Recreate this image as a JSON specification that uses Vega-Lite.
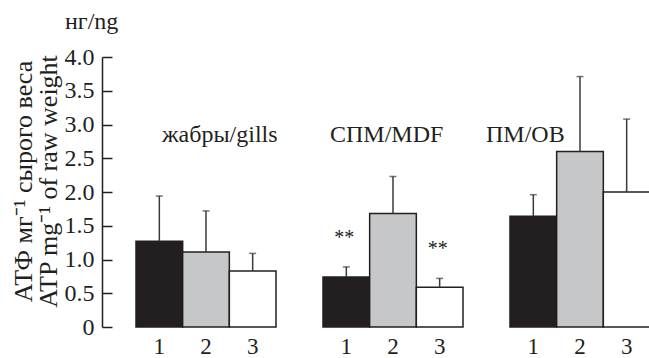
{
  "$schema": "https://vega.github.io/schema/vega-lite/v6.json",
  "autosize": "none",
  "width": 548,
  "height": 270,
  "padding": {"left": 102, "top": 57, "right": 0, "bottom": 31},
  "background": "white",
  "config": {
    "view": {"stroke": null},
    "font": "Liberation Serif",
    "axisY": {
      "domainColor": "#231f20", "domainWidth": 1.5,
      "labelFontSize": 24, "labelColor": "#231f20", "labelFont": "Liberation Serif",
      "titleFont": "Liberation Serif", "titleFontSize": 26, "titleFontWeight": "normal", "titleColor": "#231f20"
    }
  },
  "data": {"values": [
    {"group": "жабры/gills", "bar": 1, "value": 1.27, "err": 1.94, "sig": ""},
    {"group": "жабры/gills", "bar": 2, "value": 1.11, "err": 1.72, "sig": ""},
    {"group": "жабры/gills", "bar": 3, "value": 0.83, "err": 1.09, "sig": ""},
    {"group": "СПМ/MDF", "bar": 1, "value": 0.74, "err": 0.89, "sig": "**"},
    {"group": "СПМ/MDF", "bar": 2, "value": 1.68, "err": 2.23, "sig": ""},
    {"group": "СПМ/MDF", "bar": 3, "value": 0.59, "err": 0.72, "sig": "**"},
    {"group": "ПМ/OB", "bar": 1, "value": 1.64, "err": 1.96, "sig": ""},
    {"group": "ПМ/OB", "bar": 2, "value": 2.60, "err": 3.71, "sig": ""},
    {"group": "ПМ/OB", "bar": 3, "value": 2.00, "err": 3.08, "sig": ""}
  ]},
  "encoding": {
    "x": {"field": "group", "type": "nominal", "axis": null,
      "scale": {"domain": ["жабры/gills", "СПМ/MDF", "ПМ/OB"], "paddingInner": 0.2513, "paddingOuter": 0.0909, "align": 1}},
    "xOffset": {"field": "bar", "type": "nominal", "scale": {"domain": [1, 2, 3], "paddingInner": 0, "paddingOuter": 0}}
  },
  "layer": [
    {
      "mark": {"type": "bar", "stroke": "#231f20", "strokeWidth": 1.5},
      "encoding": {
        "y": {"field": "value", "type": "quantitative",
          "scale": {"domain": [0, 4], "nice": false, "zero": true},
          "axis": {"values": [0, 0.5, 1, 1.5, 2, 2.5, 3, 3.5, 4], "labelExpr": "datum.value == 0 ? '0' : format(datum.value, '.1f')", "labelOverlap": false, "ticks": false, "labelPadding": 8, "grid": true, "gridColor": "#231f20", "gridWidth": 1.5, "gridOpacity": 1, "gridDash": [10, 3000], "title": ["АТФ мг⁻¹ сырого веса", "ATP mg⁻¹ of raw weight"], "titleLineHeight": 25, "titleX": -92, "titleY": 124, "titleAlign": "center", "titleBaseline": "top", "titleAngle": -90}
        },
        "fill": {"field": "bar", "type": "nominal", "legend": null,
          "scale": {"domain": [1, 2, 3], "range": ["#231f20", "#c6c7c9", "#ffffff"]}}
      }
    },
    {
      "mark": {"type": "rule", "color": "#3a3a3a", "strokeWidth": 1.5},
      "encoding": {
        "y": {"field": "value", "type": "quantitative",
          "axis": {"values": [0, 0.5, 1, 1.5, 2, 2.5, 3, 3.5, 4], "labelExpr": "datum.value == 0 ? '0' : format(datum.value, '.1f')", "labelOverlap": false, "ticks": false, "labelPadding": 8, "grid": true, "gridColor": "#231f20", "gridWidth": 1.5, "gridOpacity": 1, "gridDash": [10, 3000], "title": ["АТФ мг⁻¹ сырого веса", "ATP mg⁻¹ of raw weight"], "titleLineHeight": 25, "titleX": -92, "titleY": 124, "titleAlign": "center", "titleBaseline": "top", "titleAngle": -90}},
        "y2": {"field": "err"}
      }
    },
    {
      "mark": {"type": "tick", "color": "#3a3a3a", "size": 7, "thickness": 1.5},
      "encoding": {
        "y": {"field": "err", "type": "quantitative",
          "axis": {"values": [0, 0.5, 1, 1.5, 2, 2.5, 3, 3.5, 4], "labelExpr": "datum.value == 0 ? '0' : format(datum.value, '.1f')", "labelOverlap": false, "ticks": false, "labelPadding": 8, "grid": true, "gridColor": "#231f20", "gridWidth": 1.5, "gridOpacity": 1, "gridDash": [10, 3000], "title": ["АТФ мг⁻¹ сырого веса", "ATP mg⁻¹ of raw weight"], "titleLineHeight": 25, "titleX": -92, "titleY": 124, "titleAlign": "center", "titleBaseline": "top", "titleAngle": -90}}
      }
    },
    {
      "transform": [{"filter": "datum.sig != ''"}],
      "mark": {"type": "text", "font": "Liberation Serif", "color": "#231f20", "fontSize": 20, "dy": -29, "baseline": "middle", "dx": -2},
      "encoding": {
        "y": {"field": "err", "type": "quantitative",
          "axis": {"values": [0, 0.5, 1, 1.5, 2, 2.5, 3, 3.5, 4], "labelExpr": "datum.value == 0 ? '0' : format(datum.value, '.1f')", "labelOverlap": false, "ticks": false, "labelPadding": 8, "grid": true, "gridColor": "#231f20", "gridWidth": 1.5, "gridOpacity": 1, "gridDash": [10, 3000], "title": ["АТФ мг⁻¹ сырого веса", "ATP mg⁻¹ of raw weight"], "titleLineHeight": 25, "titleX": -92, "titleY": 124, "titleAlign": "center", "titleBaseline": "top", "titleAngle": -90}},
        "text": {"field": "sig"}
      }
    },
    {
      "mark": {"type": "text", "font": "Liberation Serif", "color": "#231f20", "fontSize": 23, "baseline": "alphabetic"},
      "encoding": {
        "y": {"datum": -0.4, "type": "quantitative",
          "axis": {"values": [0, 0.5, 1, 1.5, 2, 2.5, 3, 3.5, 4], "labelExpr": "datum.value == 0 ? '0' : format(datum.value, '.1f')", "labelOverlap": false, "ticks": false, "labelPadding": 8, "grid": true, "gridColor": "#231f20", "gridWidth": 1.5, "gridOpacity": 1, "gridDash": [10, 3000], "title": ["АТФ мг⁻¹ сырого веса", "ATP mg⁻¹ of raw weight"], "titleLineHeight": 25, "titleX": -92, "titleY": 124, "titleAlign": "center", "titleBaseline": "top", "titleAngle": -90}},
        "text": {"field": "bar"}
      }
    },
    {
      "transform": [{"filter": "datum.group == 'жабры/gills' && datum.bar == 1"}],
      "mark": {"type": "text", "font": "Liberation Serif", "color": "#231f20", "fontSize": 24, "baseline": "alphabetic", "align": "left", "dx": -141},
      "encoding": {"xOffset": {"value": 70},
        "y": {"datum": 4.42, "type": "quantitative",
          "axis": {"values": [0, 0.5, 1, 1.5, 2, 2.5, 3, 3.5, 4], "labelExpr": "datum.value == 0 ? '0' : format(datum.value, '.1f')", "labelOverlap": false, "ticks": false, "labelPadding": 8, "grid": true, "gridColor": "#231f20", "gridWidth": 1.5, "gridOpacity": 1, "gridDash": [10, 3000], "title": ["АТФ мг⁻¹ сырого веса", "ATP mg⁻¹ of raw weight"], "titleLineHeight": 25, "titleX": -92, "titleY": 124, "titleAlign": "center", "titleBaseline": "top", "titleAngle": -90}},
        "text": {"value": "нг/ng"}}
    },
    {
      "transform": [{"filter": "datum.bar == 1"}],
      "mark": {"type": "text", "font": "Liberation Serif", "color": "#231f20", "fontSize": 24, "baseline": "alphabetic", "align": "left", "dx": {"expr": "datum.group == 'жабры/gills' ? -44 : datum.group == 'СПМ/MDF' ? -63 : -94"}},
      "encoding": {"xOffset": {"value": 70},
        "y": {"datum": 2.74, "type": "quantitative",
          "axis": {"values": [0, 0.5, 1, 1.5, 2, 2.5, 3, 3.5, 4], "labelExpr": "datum.value == 0 ? '0' : format(datum.value, '.1f')", "labelOverlap": false, "ticks": false, "labelPadding": 8, "grid": true, "gridColor": "#231f20", "gridWidth": 1.5, "gridOpacity": 1, "gridDash": [10, 3000], "title": ["АТФ мг⁻¹ сырого веса", "ATP mg⁻¹ of raw weight"], "titleLineHeight": 25, "titleX": -92, "titleY": 124, "titleAlign": "center", "titleBaseline": "top", "titleAngle": -90}},
        "text": {"field": "group"}}
    }
  ]
}
